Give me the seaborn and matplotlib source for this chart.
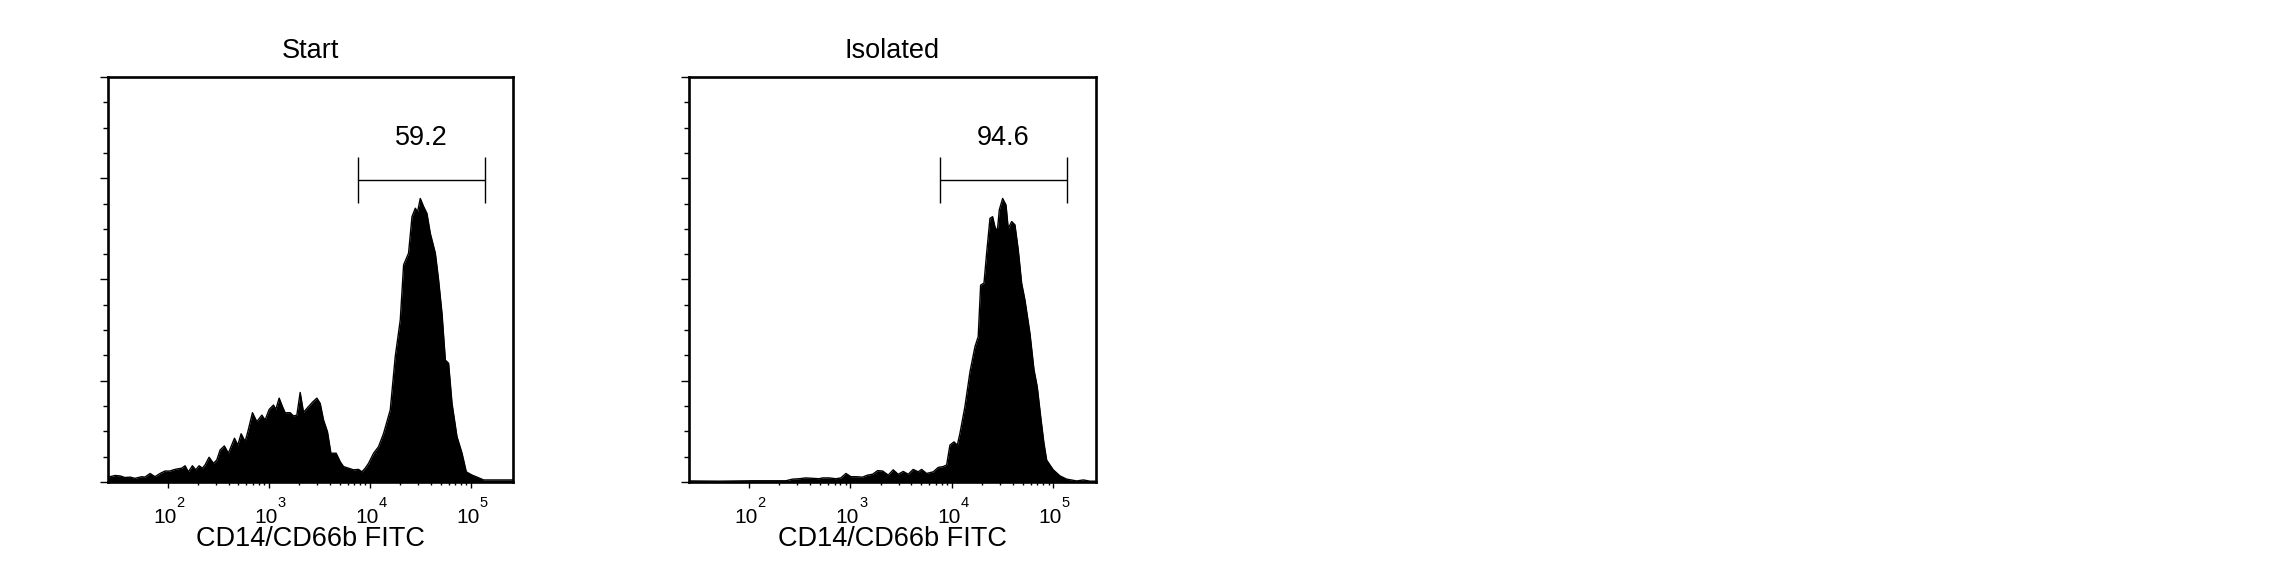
import numpy as np
import matplotlib
matplotlib.use("Agg")
import matplotlib.pyplot as plt
import matplotlib.ticker as mticker
import seaborn as sns

# histogram outlines: log10(FITC) position and % of axis height
panel_titles = ["Start", "Isolated"]
gate_labels = ["59.2", "94.6"]
gate_log = [3.88, 5.135]
gate_level = 74.6

start_log = [1.412, 1.478, 1.528, 1.577, 1.627, 1.676, 1.743, 1.775, 1.825, 1.874, 1.924, 1.973,
             2.023, 2.056, 2.089, 2.139, 2.171, 2.204, 2.244, 2.277, 2.310, 2.343,
             2.369, 2.409, 2.452, 2.485, 2.518, 2.560, 2.600, 2.660, 2.693, 2.726, 2.765, 2.792,
             2.838, 2.881, 2.931, 2.963, 3.003, 3.046, 3.069, 3.102, 3.135, 3.161, 3.211, 3.244,
             3.277, 3.310, 3.343,
             3.392, 3.436, 3.475, 3.508, 3.541, 3.580, 3.614, 3.666, 3.706, 3.739, 3.788, 3.838,
             3.887, 3.921, 3.953, 3.986,
             4.036, 4.085, 4.135, 4.201, 4.250, 4.300, 4.333, 4.382, 4.416, 4.449, 4.471, 4.498,
             4.531, 4.564, 4.597, 4.647, 4.679, 4.713, 4.746, 4.778, 4.812, 4.861, 4.911, 4.953,
             5.010, 5.059, 5.125, 5.257, 5.389, 5.418]
start_pct = [1.2, 1.6, 1.5, 1.1, 1.2, 0.9, 1.3, 1.2, 2.1, 1.3, 2.1, 2.7,
             2.7, 3.0, 3.2, 3.4, 4.0, 2.5, 4.0, 3.0, 4.0, 3.4,
             4.2, 6.1, 4.6, 5.4, 7.9, 8.9, 7.1, 10.8, 9.1, 11.9, 10.0, 12.4,
             17.1, 14.9, 16.5, 15.3, 17.9, 19.0, 17.9, 20.7, 18.6, 17.1, 17.1, 16.3,
             16.5, 22.1, 17.2,
             18.6, 19.8, 20.7, 19.4, 15.3, 12.4, 7.1, 7.1, 5.0, 3.8, 3.4, 3.0,
             3.1, 2.5, 3.4, 4.6,
             7.1, 8.7, 12.0, 17.8, 30.9, 40.0, 53.6, 56.5, 65.5, 67.6, 66.7, 70.0,
             68.0, 66.3, 61.4, 56.5, 49.9, 41.6, 30.1, 29.3, 19.4, 11.2, 7.1, 2.5,
             1.7, 1.2, 0.5, 0.5, 0.5, 0.5]

iso_log = [1.412, 1.445, 1.707, 2.036, 2.299, 2.365, 2.431, 2.496, 2.562, 2.628, 2.693, 2.727,
           2.792, 2.858, 2.907, 2.957, 3.006, 3.055, 3.121, 3.171, 3.220, 3.269, 3.319,
           3.374, 3.423, 3.472, 3.522, 3.571, 3.620, 3.670, 3.703, 3.752, 3.818,
           3.867, 3.916, 3.950, 3.982, 4.022, 4.055, 4.081, 4.130, 4.180, 4.229,
           4.261, 4.285, 4.318, 4.344, 4.377, 4.403, 4.426, 4.449, 4.469, 4.502,
           4.535, 4.557, 4.591, 4.623, 4.656, 4.689, 4.722, 4.771, 4.811, 4.843,
           4.877, 4.909, 4.936, 4.968, 5.001, 5.067, 5.133, 5.232, 5.297, 5.363, 5.418]
iso_pct = [0.25, 0.25, 0.2, 0.3, 0.3, 0.3, 0.7, 0.8, 1.0, 0.9, 0.8, 1.0,
           1.0, 0.8, 1.0, 2.1, 1.3, 1.3, 1.2, 1.7, 1.9, 2.8, 2.7,
           1.7, 3.0, 1.9, 2.6, 1.9, 3.1, 2.5, 3.1, 2.1, 2.5,
           3.6, 3.8, 4.2, 9.1, 9.9, 9.1, 12.0, 18.6, 27.2, 33.4,
           35.9, 48.6, 49.1, 56.5, 65.1, 65.5, 63.0, 61.8, 67.2, 70.0,
           68.4, 62.6, 64.3, 63.5, 57.3, 49.1, 44.9, 36.7, 27.7, 23.5,
           16.1, 9.6, 5.4, 4.2, 3.0, 1.5, 0.7, 0.25, 0.5, 0.2, 0.2]

decade_ticks = [1e2, 1e3, 1e4, 1e5]
decade_exps = ["2", "3", "4", "5"]

sns.set_style("ticks")
plt.rcParams["font.family"] = ["Liberation Sans", "DejaVu Sans"]
plt.rcParams["text.color"] = "black"
plt.rcParams["axes.labelcolor"] = "black"
plt.rcParams["xtick.color"] = "black"
plt.rcParams["ytick.color"] = "black"

fig = plt.figure(figsize=(22.92, 5.84), dpi=100)
positions = [[0.04725, 0.1747, 0.1767, 0.6935], [0.3007, 0.1747, 0.1773, 0.6935]]
series = [(start_log, start_pct), (iso_log, iso_pct)]

for i, (logs, pct) in enumerate(series):
    ax = fig.add_axes(positions[i])
    x = 10 ** np.array(logs)
    sns.lineplot(x=x, y=pct, color="black", lw=1, estimator=None, sort=False, ax=ax)
    ax.fill_between(x, pct, 0, color="black", lw=0)
    ax.set_xscale("log")
    ax.set_xlim(10 ** 1.412, 10 ** 5.418)
    ax.set_ylim(0, 100)

    ax.xaxis.set_major_locator(mticker.FixedLocator(decade_ticks))
    ax.xaxis.set_minor_locator(mticker.FixedLocator([k * 10 ** d for d in (2, 3, 4) for k in range(2, 10)]))
    ax.xaxis.set_major_formatter(mticker.NullFormatter())
    ax.xaxis.set_minor_formatter(mticker.NullFormatter())
    ax.yaxis.set_major_locator(mticker.FixedLocator([0, 25, 50, 75, 100]))
    ax.yaxis.set_minor_locator(mticker.MultipleLocator(6.25))
    ax.tick_params(axis="y", labelleft=False)
    ax.tick_params(axis="x", which="major", length=4, width=1)
    ax.tick_params(axis="x", which="minor", length=2.4, width=1)
    ax.tick_params(axis="y", which="major", length=6, width=1)
    ax.tick_params(axis="y", which="minor", length=3.6, width=1)
    for sp in ax.spines.values():
        sp.set_linewidth(1.9)
        sp.set_color("black")

    # FlowJo-style decade labels: "10" with a raised exponent
    for t, e in zip(decade_ticks, decade_exps):
        ax.annotate("10", xy=(t, 0), xycoords=("data", "axes fraction"), xytext=(-2.2, -29.7),
                    textcoords="offset points", ha="center", va="baseline", fontsize=15)
        ax.annotate(e, xy=(t, 0), xycoords=("data", "axes fraction"), xytext=(6.3, -17.8),
                    textcoords="offset points", ha="left", va="baseline", fontsize=10.5)

    ax.set_xlabel("CD14/CD66b FITC", fontsize=19.5)
    ax.xaxis.set_label_coords(0.5, -0.158)
    ax.xaxis.label.set_va("baseline")
    ax.set_ylabel("")
    ax.set_title(panel_titles[i], fontsize=19.5, pad=14)

    g0, g1 = 10 ** gate_log[0], 10 ** gate_log[1]
    ax.plot([g0, g1], [gate_level, gate_level], color="black", lw=1)
    ax.vlines([g0, g1], gate_level - 5.6, gate_level + 5.7, color="black", lw=1)
    ax.text(np.sqrt(g0 * g1), gate_level + 8.6, gate_labels[i], ha="center", va="baseline", fontsize=19.5)

fig.savefig("out.png", dpi=100)
